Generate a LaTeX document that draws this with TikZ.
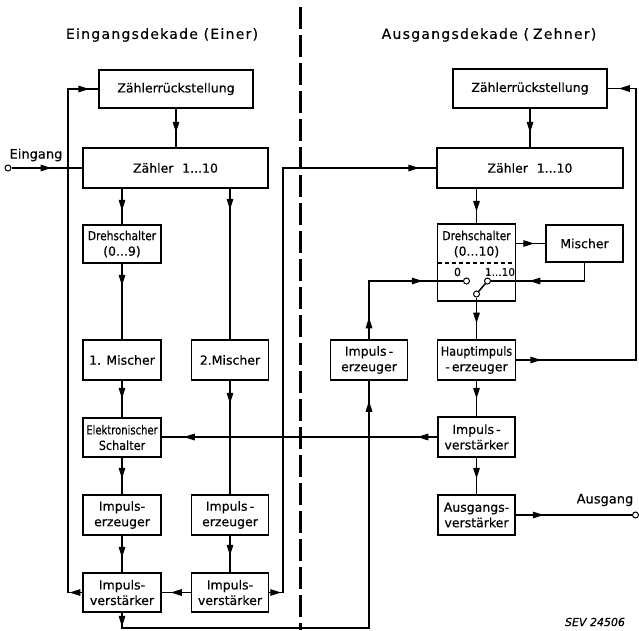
\documentclass[tikz,border=0pt]{standalone}
\usepackage{fontspec}
\setmainfont{DejaVu Sans}[FakeBold=0.4]
\newfontfamily\titlefont[LetterSpace=9,FakeBold=0.3]{DejaVu Sans}
\usetikzlibrary{arrows.meta,decorations.markings,calc}
\tikzset{
  blk/.style={draw, line width=1.5pt, rectangle, inner sep=1pt, align=center,
    font=\fontsize{12.5}{15.5}\selectfont},
  conn/.style={line width=1.5pt},
  ar/.style={postaction={decorate,decoration={markings,
    mark=at position #1 with {\arrow{Triangle[length=11pt,width=6.5pt]}}}}},
  ar2/.style n args={2}{postaction={decorate,decoration={markings,
    mark=at position #1 with {\arrow{Triangle[length=11pt,width=6.5pt]}},
    mark=at position #2 with {\arrow{Triangle[length=11pt,width=6.5pt]}}}}},
  contact/.style={circle, draw, fill=white, line width=1pt, minimum size=6pt, inner sep=0pt},
  ttl/.style={font=\titlefont\fontsize{14}{16}\selectfont},
  lbl/.style={font=\fontsize{13}{15}\selectfont},
}
\begin{document}
\begin{tikzpicture}[x=1pt,y=-1pt]
\useasboundingbox (0,0) rectangle (639,630);

% titles
\node[ttl] (tl) at (162,35) {Eingangsdekade (Einer)};
\node[ttl] (tr) at (489,35) {Ausgangsdekade (\hspace{4pt}Zehner)};

% divider
\coordinate (dtop) at (300,7);
\coordinate (dbot) at (300,630);
\draw[line width=3pt, dash pattern=on 22pt off 6pt] (dtop) -- (dbot);

% left blocks
\node[blk, minimum width=154pt, minimum height=38pt] (Lrst) at (176,89) {Zählerrückstellung};
\node[blk, minimum width=185pt, minimum height=40pt] (Lcnt) at (175.5,168) {Zähler\hspace{0.7em}1...10};
\node[blk, minimum width=78pt, minimum height=38pt] (Ldreh) at (122,244) {\scalebox{0.85}[1]{Drehschalter}\\(0...9)};
\node[blk, minimum width=78pt, minimum height=40pt] (Lm1) at (122,360) {1. Mischer};
\node[blk, minimum width=77pt, minimum height=40pt] (Lm2) at (230,360) {2.Mischer};
\node[blk, minimum width=78pt, minimum height=39pt] (Les) at (122,437.5) {\scalebox{0.8}[1]{Elektronischer}\\\scalebox{0.9}[1]{Schalter}};
\node[blk, minimum width=78pt, minimum height=40pt] (Lie1) at (122,515) {Impuls-\\erzeuger};
\node[blk, minimum width=77pt, minimum height=40pt] (Lie2) at (230,515) {Impuls\,-\\erzeuger};
\node[blk, minimum width=78pt, minimum height=39pt] (Liv1) at (122,592.5) {Impuls-\\verstärker};
\node[blk, minimum width=77pt, minimum height=39pt] (Liv2) at (230,592.5) {Impuls-\\verstärker};

% right blocks
\node[blk, minimum width=154pt, minimum height=39pt] (Rrst) at (530,88.5) {Zählerrückstellung};
\node[blk, minimum width=186pt, minimum height=40pt] (Rcnt) at (530,168) {Zähler\hspace{0.7em}1...10};
\node[blk, minimum width=78pt, minimum height=77pt] (Rdreh) at (476.5,262.5) {};
\node[align=center, inner sep=0pt, font=\fontsize{12.5}{15.5}\selectfont] (Rdrehtxt) at (476.5,244) {\scalebox{0.85}[1]{Drehschalter}\\(0...10)};
\node[blk, minimum width=77pt, minimum height=37pt] (Rmix) at (584.5,243.5) {Mischer};
\node[blk, minimum width=77pt, minimum height=40pt] (Rie) at (369,360) {Impuls\,-\\erzeuger};
\node[blk, minimum width=78pt, minimum height=40pt] (Rhie) at (476.5,360) {\scalebox{0.9}[1]{Hauptimpuls}\\-\,erzeuger};
\node[blk, minimum width=77pt, minimum height=40pt] (Riv) at (476.5,437) {Impuls\,-\\verstärker};
\node[blk, minimum width=77pt, minimum height=40pt] (Rav) at (476.5,515) {Ausgangs-\\verstärker};

% switch inside Drehschalter
\coordinate (dl) at (437.5,263);
\coordinate (dr) at (515.5,263);
\draw[line width=1.1pt, dash pattern=on 4pt off 3pt] (dl) -- (dr);
\node[font=\fontsize{11}{12}\selectfont] (lab0) at (457.5,272) {0};
\node[font=\fontsize{10.5}{12}\selectfont] (lab1) at (500,272) {1...10};
\node[contact] (c0) at (466.5,281) {};
\node[contact] (c1) at (487.5,281) {};
\node[contact] (cp) at (476.5,294) {};
\draw[conn] (cp) -- (c1);

% left connectors
\draw[conn, ar=24pt] (Lrst.south) -- (Lrst.south |- Lcnt.north);
\draw[conn, ar=22pt] (Ldreh.north |- Lcnt.south) -- (Ldreh.north);
\draw[conn, ar=22pt] (Ldreh.south) -- (Lm1.north);
\draw[conn, ar=18pt] (Lm1.south) -- (Les.north);
\draw[conn, ar=21pt] (Les.south) -- (Lie1.north);
\draw[conn, ar=22pt] (Lie1.south) -- (Liv1.north);
\draw[conn, ar=21pt] (Lm2.north |- Lcnt.south) -- (Lm2.north);
\draw[conn, ar=23pt] (Lm2.south) -- (Lie2.north);
\draw[conn, ar=20pt] (Lie2.south) -- (Liv2.north);
\draw[conn, ar=20pt] (Liv2.west) -- (Liv1.east);

\coordinate (fbL) at (68,592.5);
\draw[conn, ar2={12.8pt}{-9pt}] (Liv1.west) -- (fbL) |- (Lrst.west);

% input
\node[contact] (ein) at (8,168) {};
\node[lbl] (einlbl) at (36,155) {Eingang};
\draw[conn, ar=40pt] (ein) -- (Lcnt.west);

% crossing to right counter
\coordinate (fbM) at (283,592.5);
\draw[conn, ar2={12pt}{-17pt}] (Liv2.east) -- (fbM) |- (Rcnt.west);

% bottom loop to right Impulserzeuger
\coordinate (bl) at (122,628);
\draw[conn, ar2={14pt}{-20pt}] (Liv1.south) -- (bl) -| (Rie.south);

% electronic switch control
\draw[conn, ar2={20pt}{-22pt}] (Riv.west) -- (Riv.west -| Les.east);

% right connectors
\draw[conn, ar=24pt] (Rrst.south) -- (Rrst.south |- Rcnt.north);
\draw[conn, ar=23pt] (Rdreh.north |- Rcnt.south) -- (Rdreh.north);
\draw[conn, ar=18pt] (Rdreh.east |- Rmix.west) -- (Rmix.west);
\draw[conn, ar=73.5pt] (Rmix.south) |- (c1);
\draw[conn, ar2={22pt}{112pt}] (Rie.north) |- (c0);
\draw[conn, ar=26pt] (cp) -- (cp |- Rhie.north);
\coordinate (fbR) at (636,360);
\draw[conn, ar2={25pt}{-11pt}] (Rhie.east) -- (fbR) |- (Rrst.east);
\draw[conn, ar=18pt] (Rhie.south) -- (Riv.north);
\draw[conn, ar=21pt] (Riv.south) -- (Rav.north);

% output
\node[contact] (aus) at (635.5,515) {};
\node[lbl] (auslbl) at (605,500) {Ausgang};
\draw[conn, ar=28pt] (Rav.east) -- (aus);

\node[font=\itshape\fontsize{11}{13}\selectfont] (sev) at (595,622) {SEV 24506};
\end{tikzpicture}
\end{document}
